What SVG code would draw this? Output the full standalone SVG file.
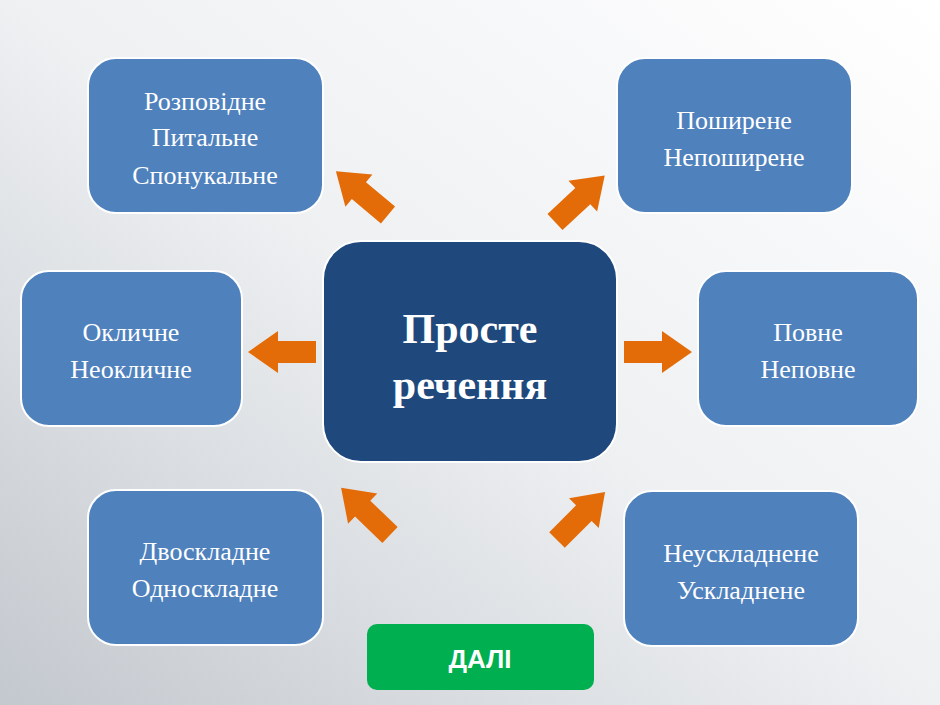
<svg xmlns="http://www.w3.org/2000/svg" width="940" height="705" viewBox="0 0 940 705">
<defs>
<linearGradient id="bg" x1="1" y1="0" x2="0" y2="1">
<stop offset="0" stop-color="#ffffff"/><stop offset="0.5" stop-color="#eef0f2"/><stop offset="1" stop-color="#c3c8ce"/>
</linearGradient>
<path id="arr" d="M0,-11 L38,-11 L38,-21 L68,0 L38,21 L38,11 L0,11 Z" fill="#e36c09"/>
<style>
.n{fill:#4f81bd;stroke:#fff;stroke-width:2}
.t{font-family:"Liberation Serif",serif;font-size:26px;fill:#fff;text-anchor:middle}
</style>
</defs>
<rect width="940" height="705" fill="url(#bg)"/>
<g id="connectors">
<use href="#arr" transform="translate(316,352) rotate(180)"/>
<use href="#arr" transform="translate(624,352)"/>
<use href="#arr" transform="translate(388,215) rotate(-140)"/>
<use href="#arr" transform="translate(555,222) rotate(-43)"/>
<use href="#arr" transform="translate(390,535) rotate(-136)"/>
<use href="#arr" transform="translate(557,540) rotate(-45)"/>
</g>
<g id="center"><rect x="323" y="241" width="294" height="221" rx="38" fill="#1f497d" stroke="#fff" stroke-width="2"/>
<text class="t" x="470" y="343" style="font-size:42px;font-weight:bold">Просте</text>
<text class="t" x="470" y="399" style="font-size:42px;font-weight:bold">речення</text></g>
<g id="tl"><rect class="n" x="88" y="58" width="235" height="155" rx="28"/>
<text class="t" x="205" y="110">Розповідне</text><text class="t" x="205" y="146">Питальне</text><text class="t" x="205" y="184">Спонукальне</text></g>
<g id="tr"><rect class="n" x="617" y="58" width="235" height="155" rx="28"/>
<text class="t" x="734" y="129">Поширене</text><text class="t" x="734" y="166">Непоширене</text></g>
<g id="ml"><rect class="n" x="21" y="271" width="221" height="155" rx="28"/>
<text class="t" x="131" y="341">Окличне</text><text class="t" x="131" y="378">Неокличне</text></g>
<g id="mr"><rect class="n" x="698" y="271" width="220" height="155" rx="28"/>
<text class="t" x="808" y="341">Повне</text><text class="t" x="808" y="378">Неповне</text></g>
<g id="bl"><rect class="n" x="88" y="490" width="235" height="155" rx="28"/>
<text class="t" x="205" y="560">Двоскладне</text><text class="t" x="205" y="597">Односкладне</text></g>
<g id="br"><rect class="n" x="624" y="491" width="234" height="155" rx="28"/>
<text class="t" x="741" y="562">Неускладнене</text><text class="t" x="741" y="599">Ускладнене</text></g>
<g id="next"><rect x="367" y="624" width="227" height="66" rx="10" fill="#00b050"/>
<text x="480" y="668" style="font-family:'Liberation Sans',sans-serif;font-size:26px;font-weight:bold;fill:#fff;text-anchor:middle">ДАЛІ</text></g>
</svg>
